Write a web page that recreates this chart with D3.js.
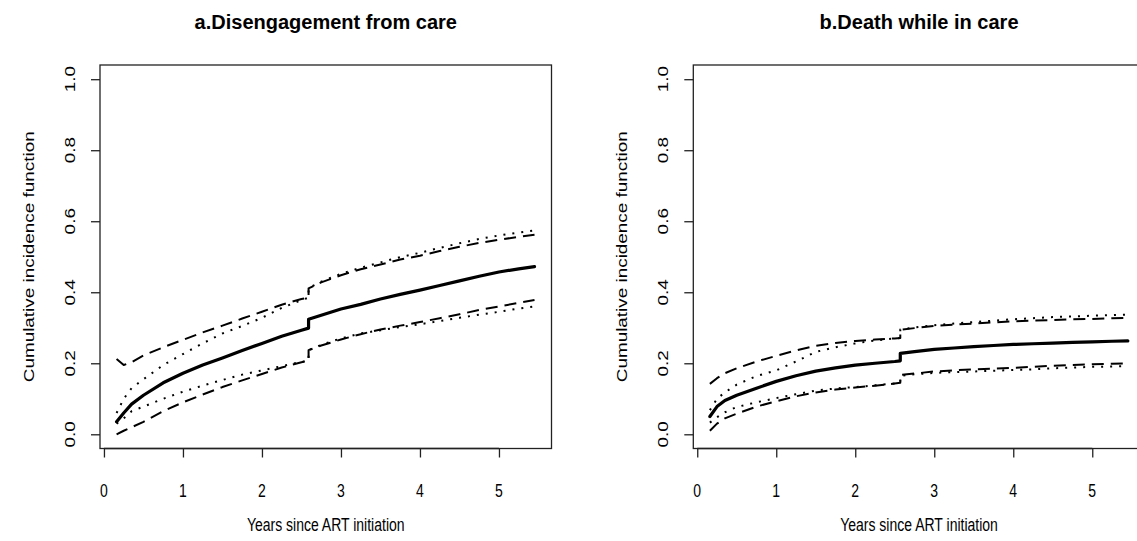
<!DOCTYPE html>
<html><head><meta charset="utf-8">
<script src="https://cdn.jsdelivr.net/npm/d3@7"></script>
<style>body{margin:0;background:#fff}svg{display:block}text{font-family:"Liberation Sans",Arial,sans-serif;fill:#000}</style>
</head><body>
<svg id="c" width="1137" height="541"></svg>
<script>
// ---- data ----
const xTicks = [0, 1, 2, 3, 4, 5];
const yTicks = [0, 0.2, 0.4, 0.6, 0.8, 1.0];
const yTickLabels = ["0.0", "0.2", "0.4", "0.6", "0.8", "1.0"];
const titles = ["a.Disengagement from care", "b.Death while in care"];
const xTitle = "Years since ART initiation";
const yTitle = "Cumulative incidence function";

const timesA = [0.16,0.25,0.35,0.5,0.75,1.0,1.25,1.5,1.75,2.0,2.25,2.5,2.59,2.59,2.75,3.0,3.25,3.5,3.75,4.0,4.25,4.5,4.75,5.0,5.25,5.45];
const cifA      = [0.035,0.06,0.085,0.11,0.145,0.172,0.195,0.215,0.236,0.256,0.276,0.293,0.299,0.324,0.335,0.353,0.366,0.381,0.394,0.406,0.419,0.432,0.445,0.457,0.466,0.472];
const upDashA   = [0.212,0.195,0.203,0.222,0.245,0.266,0.287,0.306,0.326,0.345,0.365,0.381,0.385,0.411,0.428,0.448,0.465,0.478,0.492,0.503,0.516,0.528,0.539,0.548,0.556,0.562];
const upDotA    = [0.06,0.1,0.13,0.155,0.195,0.226,0.256,0.284,0.305,0.328,0.356,0.378,0.385,0.412,0.430,0.452,0.469,0.484,0.499,0.511,0.525,0.538,0.55,0.56,0.568,0.574];
const loDashA   = [0.0,0.01,0.02,0.035,0.065,0.09,0.112,0.133,0.152,0.17,0.188,0.203,0.207,0.237,0.25,0.267,0.282,0.295,0.306,0.316,0.327,0.338,0.35,0.36,0.37,0.378];
const loDotA    = [0.03,0.045,0.065,0.078,0.1,0.12,0.137,0.153,0.168,0.18,0.192,0.204,0.207,0.237,0.252,0.27,0.284,0.293,0.302,0.31,0.319,0.328,0.337,0.345,0.354,0.36];

const timesB = [0.16,0.25,0.35,0.5,0.75,1.0,1.25,1.5,1.75,2.0,2.25,2.5,2.57,2.57,2.75,3.0,3.25,3.5,3.75,4.0,4.25,4.5,4.75,5.0,5.25,5.45];
const cifB      = [0.05,0.078,0.095,0.11,0.13,0.149,0.165,0.178,0.187,0.195,0.2,0.205,0.207,0.228,0.233,0.239,0.243,0.247,0.25,0.253,0.255,0.257,0.259,0.26,0.262,0.263];
const upDashB   = [0.142,0.158,0.172,0.186,0.205,0.221,0.236,0.249,0.257,0.263,0.267,0.27,0.271,0.294,0.299,0.305,0.309,0.312,0.315,0.318,0.32,0.322,0.324,0.325,0.327,0.328];
const upDotB    = [0.068,0.1,0.118,0.14,0.164,0.18,0.205,0.232,0.245,0.256,0.264,0.27,0.271,0.295,0.301,0.307,0.312,0.316,0.32,0.324,0.327,0.33,0.332,0.334,0.336,0.337];
const loDashB   = [0.01,0.03,0.045,0.058,0.078,0.093,0.107,0.118,0.126,0.132,0.137,0.143,0.145,0.167,0.171,0.177,0.18,0.183,0.185,0.187,0.19,0.193,0.195,0.197,0.199,0.2];
const loDotB    = [0.033,0.048,0.062,0.077,0.09,0.102,0.113,0.123,0.129,0.133,0.138,0.143,0.145,0.165,0.169,0.173,0.175,0.177,0.179,0.181,0.183,0.186,0.188,0.19,0.191,0.192];

// ---- drawing ----
const svg = d3.select("#c");
const SY = 1.35; // vertical stretch of axis glyphs seen in the reference
const styles = {
  solid: {w: 3.2, dash: null},
  dash:  {w: 2, dash: "12,7"},
  dot:   {w: 2, dash: "2,7"}
};

function label(g, x, y, str, size, opts = {}) {
  const sy = opts.sy || SY;
  const holder = g.append("g").attr("transform", `translate(${x},${y}) scale(1,${sy})`);
  const t = holder.append("text").attr("text-anchor", "middle").style("font-size", size + "px").text(str);
  if (opts.bold) t.style("font-weight", "bold");
  if (opts.rotate) t.attr("transform", "rotate(-90)");
  return t;
}

function panel(left, title, times, series) {
  const right = left + 451.5, top = 65, bottom = 448.5;
  const x = d3.scaleLinear().domain([-0.05, 5.665]).range([left, right]);
  const y = d3.scaleLinear().domain([-0.04, 1.04]).range([bottom, top]);
  const g = svg.append("g");

  // box
  g.append("rect").attr("x", left).attr("y", top).attr("width", right-left).attr("height", bottom-top)
    .attr("fill", "none").attr("stroke", "#222").attr("stroke-width", 1.3);

  // x axis
  const xa = d3.axisBottom(x).tickValues(xTicks).tickSize(9).tickSizeOuter(0).tickFormat("");
  const gx = g.append("g").attr("transform", `translate(0,${bottom})`).call(xa);
  gx.select(".domain").remove();
  gx.append("line").attr("x1", x(0)).attr("x2", x(5)).attr("stroke", "#222").attr("stroke-width", 1.3);
  gx.selectAll(".tick line").attr("stroke", "#222").attr("stroke-width", 1.3);
  xTicks.forEach(v => label(g, x(v), 497, String(v), 14));

  // y axis
  const ya = d3.axisLeft(y).tickValues(yTicks).tickSize(9).tickSizeOuter(0).tickFormat("");
  const gy = g.append("g").attr("transform", `translate(${left},0)`).call(ya);
  gy.select(".domain").remove();
  gy.selectAll(".tick line").attr("stroke", "#222").attr("stroke-width", 1.3);
  yTicks.forEach((v, i) => label(g, left - 25, y(v), yTickLabels[i], 14, {rotate: true}));

  // titles
  label(g, (left+right)/2, 29, title, 20, {bold: true, sy: 1.0});
  label(g, (left+right)/2, 531, xTitle, 14);
  label(g, left - 66, (top+bottom)/2, yTitle, 14, {rotate: true});

  // lines
  const line = d3.line().x(d => x(d[0])).y(d => y(d[1]));
  series.forEach(s => {
    const pts = times.map((t, i) => [t, s.values[i]]);
    const st = styles[s.type];
    g.append("path").datum(pts).attr("d", line).attr("fill", "none").attr("stroke", "#000")
      .attr("stroke-width", st.w).attr("stroke-dasharray", st.dash)
      .attr("stroke-linejoin", "round").attr("stroke-linecap", s.type === "solid" ? "round" : "butt");
  });
}

panel(100, titles[0], timesA, [
  {type: "dot", values: upDotA}, {type: "dot", values: loDotA},
  {type: "dash", values: upDashA}, {type: "dash", values: loDashA},
  {type: "solid", values: cifA}
]);
panel(693.3, titles[1], timesB, [
  {type: "dot", values: upDotB}, {type: "dot", values: loDotB},
  {type: "dash", values: upDashB}, {type: "dash", values: loDashB},
  {type: "solid", values: cifB}
]);
</script>
</body></html>
